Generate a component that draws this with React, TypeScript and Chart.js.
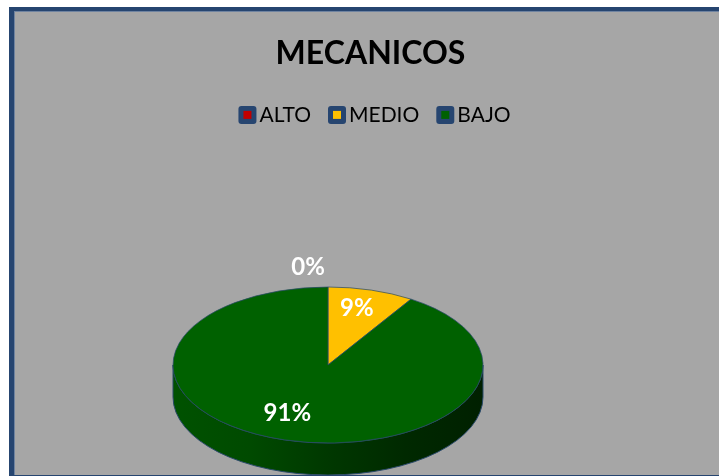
import React, { useEffect, useRef } from "react";
import { Chart, registerables } from "chart.js";

Chart.register(...registerables);

const categories = ["ALTO", "MEDIO", "BAJO"];
const values = [0, 9, 91];
const colors = ["#C00000", "#FFC000", "#006100"];
const labelTexts = ["0%", "9%", "91%"];
const FONT = "Lato, 'Open Sans', sans-serif";
const NAVY = "#264570";

const pieCx = 328;
const pieCy = 365;
const pieRx = 155;
const pieRy = 78;
const pieDepth = 32;
// label offset relative to the slice's mid-angle direction, in ellipse units
const labelRadial = [1.25, 0.76, 0.64];
const labelShift = [-20, -4, -13];
const legendShift = 4;

const framePlugin = {
  id: "frame",
  beforeDraw(chart: any) {
    const { ctx, width, height } = chart;
    ctx.save();
    ctx.fillStyle = "#FFFFFF";
    ctx.fillRect(0, 0, width, height);
    ctx.fillStyle = NAVY;
    ctx.fillRect(9, 7, width - 9, height - 7);
    ctx.fillStyle = "#6F83A0";
    ctx.fillRect(14, 11, width - 14, height - 12);
    ctx.fillStyle = "#A6A6A6";
    ctx.fillRect(15, 12, width - 15, height - 13);
    ctx.restore();
  },
};

const legendSwatchPlugin = {
  id: "legendSwatch",
  afterLayout(chart: any) {
    const l = chart.legend;
    l.left += legendShift;
    l.right += legendShift;
    l.legendHitBoxes.forEach((h: any) => {
      h.left += legendShift;
    });
  },
  afterDraw(chart: any) {
    const { ctx } = chart;
    ctx.save();
    chart.legend.legendHitBoxes.forEach((h: any, i: number) => {
      const cy = h.top + h.height / 2;
      ctx.fillStyle = NAVY;
      ctx.beginPath();
      ctx.roundRect(h.left, cy - 9, 18, 18, 3);
      ctx.fill();
      ctx.fillStyle = colors[i];
      ctx.fillRect(h.left + 5, cy - 4, 8, 8);
    });
    ctx.restore();
  },
};

const pie3dPlugin = {
  id: "pie3d",
  beforeDatasetsDraw(chart: any) {
    const { ctx } = chart;
    const arc = chart.getDatasetMeta(0).data[0];
    const r = arc.outerRadius;
    ctx.save();
    const g = ctx.createLinearGradient(pieCx - pieRx, 0, pieCx + pieRx, 0);
    g.addColorStop(0, "#005200");
    g.addColorStop(0.25, "#004A00");
    g.addColorStop(0.5, "#003800");
    g.addColorStop(0.75, "#002900");
    g.addColorStop(1, "#002000");
    ctx.beginPath();
    ctx.ellipse(pieCx, pieCy + pieDepth, pieRx, pieRy, 0, 0, Math.PI);
    ctx.lineTo(pieCx - pieRx, pieCy);
    ctx.ellipse(pieCx, pieCy, pieRx, pieRy, 0, Math.PI, 0, true);
    ctx.closePath();
    ctx.fillStyle = g;
    ctx.fill();
    ctx.strokeStyle = "#2A4A6A";
    ctx.lineWidth = 1;
    ctx.stroke();
    ctx.restore();
    ctx.save();
    ctx.translate(pieCx, pieCy);
    ctx.scale(pieRx / r, pieRy / r);
    ctx.translate(-arc.x, -arc.y);
  },
  afterDatasetsDraw(chart: any) {
    const { ctx } = chart;
    ctx.restore();
    const els = chart.getDatasetMeta(0).data;
    ctx.save();
    ctx.fillStyle = "#FFFFFF";
    ctx.font = `bold 24px ${FONT}`;
    ctx.textAlign = "center";
    ctx.textBaseline = "middle";
    els.forEach((el: any, i: number) => {
      const mid = (el.startAngle + el.endAngle) / 2;
      const f = labelRadial[i];
      const x = pieCx + Math.cos(mid) * pieRx * f + labelShift[i];
      const y = pieCy + Math.sin(mid) * pieRy * f;
      ctx.fillText(labelTexts[i], x, y);
    });
    ctx.restore();
  },
};

export default function App() {
  const ref = useRef<HTMLCanvasElement>(null);
  useEffect(() => {
    document.body.style.margin = "0";
    const chart = new Chart(ref.current!, {
      type: "pie",
      data: {
        labels: categories,
        datasets: [
          {
            data: values,
            backgroundColor: colors,
            borderColor: "#2A4A6A",
            borderWidth: 1,
          },
        ],
      },
      options: {
        responsive: false,
        animation: false,
        events: [],
        layout: { padding: { left: 22, right: 0, top: 34, bottom: 20 } },
        plugins: {
          title: {
            display: true,
            text: "MECANICOS",
            color: "#000000",
            font: { family: FONT, size: 32, weight: "bold" },
            padding: { top: 0, bottom: 15 },
          },
          legend: {
            display: true,
            position: "top",
            labels: {
              color: "#000000",
              font: { family: FONT, size: 21 },
              boxWidth: 10.5,
              boxHeight: 10,
              padding: 17,
              generateLabels: () =>
                categories.map((c, i) => ({
                  text: c,
                  fillStyle: "rgba(0,0,0,0)",
                  strokeStyle: "rgba(0,0,0,0)",
                  lineWidth: 0,
                  hidden: false,
                  index: i,
                  datasetIndex: 0,
                  fontColor: "#000000",
                })),
            },
          },
          tooltip: { enabled: false },
        },
      },
      plugins: [framePlugin, pie3dPlugin, legendSwatchPlugin],
    } as any);
    return () => chart.destroy();
  }, []);
  return <canvas ref={ref} width={719} height={476} style={{ display: "block" }} />;
}
